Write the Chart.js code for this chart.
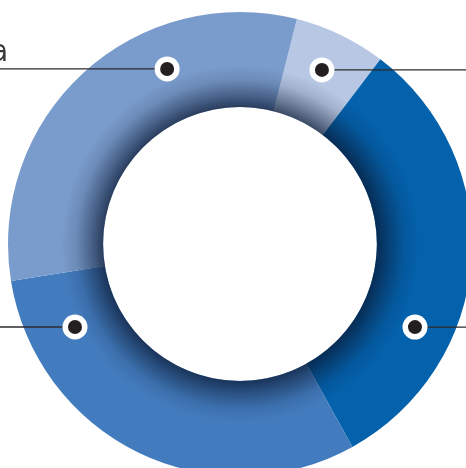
<!DOCTYPE html>
<html>
<head>
<meta charset="utf-8">
<script src="https://cdn.jsdelivr.net/npm/chart.js@4/dist/chart.umd.min.js"></script>
<style>
  html, body { margin: 0; padding: 0; background: #fff; overflow: hidden; }
  #wrap { position: absolute; left: 0; top: 0; width: 480px; height: 488px; }
</style>
</head>
<body>
<div id="wrap"><canvas id="ring"></canvas></div>
<script>
// segment values (share of the ring), clockwise from the top
const labels = ['A', 'B', 'C', 'D'];
const values = [6.4, 31.6, 30.5, 31.5];
const colors = ['#b8c8e4', '#0461ab', '#437cbe', '#7a9ccc'];

// callout markers: angle (deg clockwise from top), radius and leader side
const markerAngles = [25.2, 115.4, 243.3, 337.4];
const markerRadii = [192.4, 193.7, 184.7, 189.6];
const markerSides = ['right', 'right', 'left', 'left'];
const calloutText = 'a';

const ringExtras = {
  id: 'ringExtras',
  afterDatasetsDraw(chart) {
    const ctx = chart.ctx;
    const arc = chart.getDatasetMeta(0).data[0];
    const cx = arc.x, cy = arc.y;
    const rIn = arc.innerRadius, rOut = arc.outerRadius;

    // inner shadow on the ring
    ctx.save();
    ctx.beginPath();
    ctx.arc(cx, cy, rOut, 0, Math.PI * 2);
    ctx.arc(cx, cy, rIn, 0, Math.PI * 2, true);
    ctx.clip();
    const g = ctx.createRadialGradient(cx, cy, rIn, cx, cy, rIn + 42);
    g.addColorStop(0, 'rgba(8,22,48,0.7)');
    g.addColorStop(0.3, 'rgba(8,22,48,0.42)');
    g.addColorStop(0.65, 'rgba(8,22,48,0.13)');
    g.addColorStop(1, 'rgba(8,22,48,0)');
    ctx.fillStyle = g;
    ctx.fillRect(cx - rOut, cy - rOut, rOut * 2, rOut * 2);
    ctx.restore();

    // leader lines and markers
    markerAngles.forEach((deg, i) => {
      const a = (deg - 90) * Math.PI / 180;
      const mx = cx + Math.cos(a) * markerRadii[i];
      const my = cy + Math.sin(a) * markerRadii[i];
      ctx.save();
      ctx.strokeStyle = '#2b2b2b';
      ctx.lineWidth = 1.3;
      ctx.beginPath();
      ctx.moveTo(mx, my);
      ctx.lineTo(markerSides[i] === 'right' ? chart.width + 20 : -20, my);
      ctx.stroke();
      ctx.fillStyle = '#ffffff';
      ctx.beginPath();
      ctx.arc(mx, my, 12.5, 0, Math.PI * 2);
      ctx.fill();
      ctx.fillStyle = '#231f20';
      ctx.beginPath();
      ctx.arc(mx, my, 7, 0, Math.PI * 2);
      ctx.fill();
      ctx.restore();
    });

    // cropped label text at top left
    ctx.save();
    ctx.fillStyle = '#3a3a3a';
    ctx.font = '30px "Liberation Sans Narrow", "DejaVu Sans Condensed", sans-serif';
    ctx.textAlign = 'right';
    ctx.textBaseline = 'alphabetic';
    ctx.fillText(calloutText, 8, 61);
    ctx.restore();
  }
};

new Chart(document.getElementById('ring'), {
  type: 'doughnut',
  data: {
    labels: labels,
    datasets: [{
      data: values,
      backgroundColor: colors,
      borderWidth: 0,
    }],
  },
  options: {
    responsive: true,
    maintainAspectRatio: false,
    animation: false,
    cutout: '59%',
    rotation: 14.2,
    layout: { padding: 8 },
    plugins: {
      legend: { display: false },
      tooltip: { enabled: false },
    },
  },
  plugins: [ringExtras],
});
</script>
</body>
</html>
